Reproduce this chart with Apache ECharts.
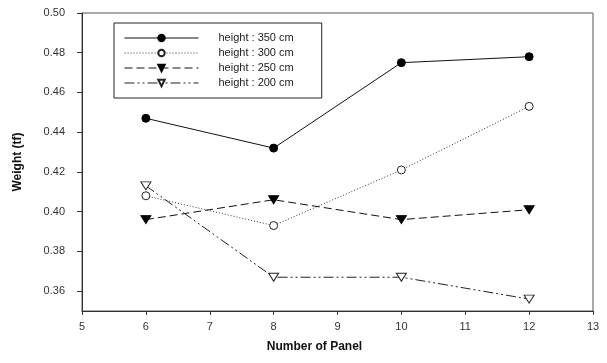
<!DOCTYPE html>
<html>
<head>
<meta charset="utf-8">
<script src="https://cdn.jsdelivr.net/npm/echarts@6/dist/echarts.min.js"></script>
<style>html,body{margin:0;padding:0;background:#fff;}#c{width:607px;height:363px;}</style>
</head>
<body>
<div id="c"></div>
<script>
var panels = [6, 8, 10, 12];
var seriesNames = ['height : 350 cm', 'height : 300 cm', 'height : 250 cm', 'height : 200 cm'];
var h350 = [0.447, 0.432, 0.475, 0.478];
var h300 = [0.408, 0.393, 0.421, 0.453];
var h250 = [0.396, 0.406, 0.396, 0.401];
var h200 = [0.413, 0.367, 0.367, 0.356];
var yTicks = [0.36, 0.38, 0.40, 0.42, 0.44, 0.46, 0.48, 0.50];

function pairs(vals) { return panels.map(function (p, i) { return [p, vals[i]]; }); }
var downTri = 'path://M0,0 L10,0 L5,8 Z';
var font = 'Liberation Sans, Arial, sans-serif';

var chart = echarts.init(document.getElementById('c'), null, {renderer: 'canvas'});
chart.setOption({
  animation: false,
  backgroundColor: '#fff',
  textStyle: {fontFamily: font},
  grid: {left: 82, right: 14, top: 13, bottom: 52, show: true, borderColor: '#555', borderWidth: 1, backgroundColor: 'transparent'},
  legend: {
    orient: 'vertical', left: 114, top: 23,
    padding: [9, 28, 9, 10],
    itemWidth: 74, itemHeight: 8, itemGap: 3,
    borderColor: '#222', borderWidth: 1,
    lineStyle: {width: 1},
    textStyle: {fontSize: 11, color: '#222', fontFamily: font, padding: [0, 0, 0, 15], lineHeight: 12},
    data: seriesNames
  },
  xAxis: {
    type: 'value', min: 5, max: 13, interval: 1,
    name: 'Number of Panel', nameLocation: 'middle', nameGap: 30,
    nameTextStyle: {fontSize: 12, fontWeight: 'bold', color: '#111', padding: [0, 46, 0, 0]},
    axisLine: {lineStyle: {color: '#333', width: 1}},
    axisTick: {show: true, length: 4, lineStyle: {color: '#333'}},
    axisLabel: {fontSize: 11, color: '#333', margin: 10},
    splitLine: {show: false}
  },
  yAxis: {
    type: 'value', min: 0.35, max: 0.50,
    name: 'Weight (tf)', nameLocation: 'middle', nameGap: 58, nameRotate: 90,
    nameTextStyle: {fontSize: 12, fontWeight: 'bold', color: '#111'},
    axisLine: {show: true, lineStyle: {color: '#333', width: 1}},
    axisTick: {show: true, length: 5, customValues: yTicks, lineStyle: {color: '#333'}},
    axisLabel: {fontSize: 11, color: '#333', margin: 17, customValues: yTicks,
      formatter: function (v) { return v.toFixed(2); }},
    splitLine: {show: false}
  },
  series: [
    {name: seriesNames[0], type: 'line', data: pairs(h350), symbol: 'circle', symbolSize: 8,
      lineStyle: {color: '#111', width: 1, type: 'solid'},
      itemStyle: {color: '#000', borderColor: '#000', borderWidth: 1}},
    {name: seriesNames[1], type: 'line', data: pairs(h300), symbol: 'circle', symbolSize: 8,
      lineStyle: {color: '#333', width: 1, type: [1, 2]},
      itemStyle: {color: '#fff', borderColor: '#222', borderWidth: 1}},
    {name: seriesNames[2], type: 'line', data: pairs(h250), symbol: downTri, symbolSize: [10, 8],
      lineStyle: {color: '#111', width: 1, type: [8, 4]},
      itemStyle: {color: '#000', borderColor: '#000', borderWidth: 1}},
    {name: seriesNames[3], type: 'line', data: pairs(h200), symbol: downTri, symbolSize: [10, 8],
      lineStyle: {color: '#222', width: 1, type: [10, 3, 2, 3, 2, 3]},
      itemStyle: {color: '#fff', borderColor: '#222', borderWidth: 1}}
  ]
});
</script>
</body>
</html>
